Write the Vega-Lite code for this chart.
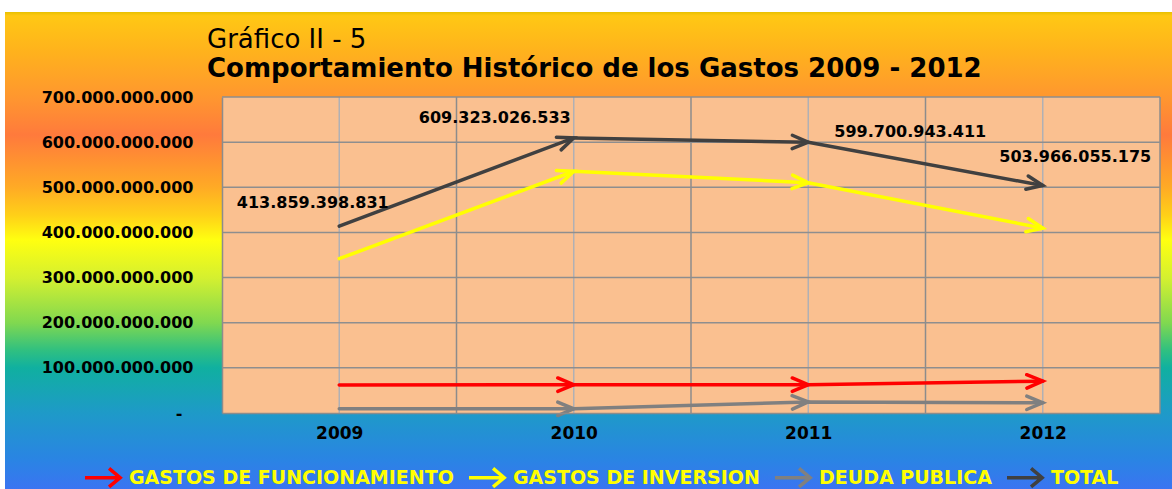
{
  "$schema": "https://vega.github.io/schema/vega-lite/v6.json",
  "width": 1167,
  "height": 477,
  "autosize": {"type": "none"},
  "padding": {"left": 5, "top": 12, "right": 0, "bottom": 0},
  "background": "#ffffff",
  "config": {
    "view": {
      "stroke": null,
      "fill": {
        "gradient": "linear", "x1": 0, "y1": 0, "x2": 0, "y2": 1,
        "stops": [
          {"offset": 0, "color": "#E8C000"},
          {"offset": 0.008, "color": "#FFC814"},
          {"offset": 0.08, "color": "#FFB31C"},
          {"offset": 0.184, "color": "#FF9530"},
          {"offset": 0.258, "color": "#FF7A3C"},
          {"offset": 0.367, "color": "#FFAA25"},
          {"offset": 0.426, "color": "#FFD018"},
          {"offset": 0.478, "color": "#FFFF10"},
          {"offset": 0.558, "color": "#D4F030"},
          {"offset": 0.652, "color": "#80D850"},
          {"offset": 0.709, "color": "#30C080"},
          {"offset": 0.746, "color": "#10B0A0"},
          {"offset": 0.84, "color": "#1E9AC8"},
          {"offset": 0.94, "color": "#2A84E4"},
          {"offset": 1, "color": "#3A74F2"}
        ]
      }
    }
  },
  "title": {
    "text": "Gráfico II - 5",
    "subtitle": "Comportamiento Histórico de los Gastos 2009 - 2012",
    "anchor": "start",
    "frame": "group",
    "dx": 202,
    "offset": -70,
    "font": "DejaVu Sans",
    "fontSize": 26,
    "fontWeight": "normal",
    "color": "#000000",
    "subtitleFont": "DejaVu Sans",
    "subtitleFontSize": 26,
    "subtitleFontWeight": "bold",
    "subtitleColor": "#000000",
    "subtitlePadding": 3
  },
  "datasets": {
    "gastos": [
      {"year": 2009, "serie": "GASTOS DE FUNCIONAMIENTO", "value": 62300000000},
      {"year": 2010, "serie": "GASTOS DE FUNCIONAMIENTO", "value": 62700000000},
      {"year": 2011, "serie": "GASTOS DE FUNCIONAMIENTO", "value": 62700000000},
      {"year": 2012, "serie": "GASTOS DE FUNCIONAMIENTO", "value": 70500000000},
      {"year": 2009, "serie": "GASTOS DE INVERSION", "value": 341800000000},
      {"year": 2010, "serie": "GASTOS DE INVERSION", "value": 535500000000},
      {"year": 2011, "serie": "GASTOS DE INVERSION", "value": 510200000000},
      {"year": 2012, "serie": "GASTOS DE INVERSION", "value": 409500000000},
      {"year": 2009, "serie": "DEUDA PUBLICA", "value": 9500000000},
      {"year": 2010, "serie": "DEUDA PUBLICA", "value": 9200000000},
      {"year": 2011, "serie": "DEUDA PUBLICA", "value": 24500000000},
      {"year": 2012, "serie": "DEUDA PUBLICA", "value": 22500000000},
      {"year": 2009, "serie": "TOTAL", "value": 413859398831},
      {"year": 2010, "serie": "TOTAL", "value": 609323026533},
      {"year": 2011, "serie": "TOTAL", "value": 599700943411},
      {"year": 2012, "serie": "TOTAL", "value": 503966055175}
    ],
    "ygrid": [
      {"v": 100000000000}, {"v": 200000000000}, {"v": 300000000000}, {"v": 400000000000},
      {"v": 500000000000}, {"v": 600000000000}, {"v": 700000000000}
    ],
    "xgrid": [
      {"x": 2009}, {"x": 2009.5}, {"x": 2010}, {"x": 2010.5}, {"x": 2011},
      {"x": 2011.5}, {"x": 2012}, {"x": 2012.5}
    ]
  },
  "data": {"name": "gastos"},
  "layer": [
    {
      "data": {"values": [{}]},
      "mark": {"type": "rect", "fill": "#FAC090"},
      "encoding": {
        "x": {"datum": 2008.5, "type": "quantitative"},
        "x2": {"datum": 2012.5},
        "y": {"datum": 0, "type": "quantitative"},
        "y2": {"datum": 700000000000}
      }
    },
    {
      "data": {"name": "xgrid"},
      "mark": {"type": "rule", "strokeWidth": 1.5},
      "encoding": {
        "x": {"field": "x", "type": "quantitative"},
        "y": {"datum": 0, "type": "quantitative"},
        "y2": {"datum": 700000000000},
        "stroke": {"condition": {"test": "datum.x % 1 == 0", "value": "#B0B0B4"}, "value": "#8C8C8C"}
      }
    },
    {
      "data": {"name": "ygrid"},
      "mark": {"type": "rule", "strokeWidth": 1.5, "stroke": "#8E8E8E"},
      "encoding": {
        "y": {"field": "v", "type": "quantitative"},
        "x": {"datum": 2008.5, "type": "quantitative"},
        "x2": {"datum": 2012.5}
      }
    },
    {
      "mark": {"type": "line", "strokeWidth": 3.5, "strokeCap": "round"},
      "encoding": {
        "x": {
          "field": "year", "type": "quantitative",
          "scale": {"domain": [2008.5, 2012.5], "range": [217, 1155], "nice": false, "zero": false},
          "axis": {
            "orient": "bottom", "offset": -76, "title": null, "values": [2009, 2010, 2011, 2012],
            "format": "d", "ticks": false, "grid": false, "labelPadding": 12,
            "labelFont": "DejaVu Sans", "labelFontWeight": "bold", "labelFontSize": 17, "labelColor": "#000000",
            "domainColor": "#8C8C8C", "domainWidth": 1.5, "zindex": 1
          }
        },
        "y": {
          "field": "value", "type": "quantitative",
          "scale": {"domain": [0, 700000000000], "range": [401, 85], "nice": false, "zero": false},
          "axis": {
            "orient": "left", "offset": -217, "title": null,
            "values": [0, 100000000000, 200000000000, 300000000000, 400000000000, 500000000000, 600000000000, 700000000000],
            "labelExpr": "datum.value == 0 ? '-\u00a0\u00a0\u200b' : replace(format(datum.value, ',d'), regexp(',', 'g'), '.')",
            "ticks": false, "grid": false, "labelPadding": 29,
            "labelFont": "DejaVu Sans", "labelFontWeight": "bold", "labelFontSize": 16, "labelColor": "#000000",
            "domainColor": "#8C8C8C", "domainWidth": 1.5, "zindex": 1
          }
        },
        "color": {
          "field": "serie", "type": "nominal",
          "scale": {
            "domain": ["GASTOS DE FUNCIONAMIENTO", "GASTOS DE INVERSION", "DEUDA PUBLICA", "TOTAL"],
            "range": ["#FF0000", "#FFFF00", "#808080", "#404040"]
          },
          "legend": {
            "orient": "none", "legendX": 78, "legendY": 445, "direction": "horizontal", "title": null,
            "symbolType": "M-1,0L0.85,0M0.3,-0.5L0.9,0L0.3,0.5", "symbolSize": 1369, "symbolStrokeWidth": 3.5,
            "symbolFillColor": "transparent",
            "labelFont": "DejaVu Sans", "labelFontWeight": "bold", "labelFontSize": 19, "labelColor": "#FFFF00",
            "labelOffset": 5, "columnPadding": 8, "labelLimit": 500, "padding": 0
          }
        }
      }
    },
    {
      "transform": [
        {"window": [{"op": "lag", "field": "value", "as": "prev"}], "groupby": ["serie"], "sort": [{"field": "year", "order": "ascending"}]},
        {"filter": "datum.prev != null"},
        {"calculate": "atan2((datum.prev - datum.value) * 316 / 700000000000, 234.5) * 180 / PI", "as": "ang"}
      ],
      "mark": {"type": "point", "shape": "M-1,-0.42L0,0L-1,0.42", "filled": false, "size": 1024, "strokeWidth": 3.5, "opacity": 1, "strokeCap": "round"},
      "encoding": {
        "x": {"field": "year", "type": "quantitative"},
        "y": {"field": "value", "type": "quantitative"},
        "color": {"field": "serie", "type": "nominal", "legend": null},
        "angle": {"field": "ang", "type": "quantitative", "scale": null}
      }
    },
    {
      "transform": [
        {"filter": "datum.serie == 'TOTAL' && datum.year == 2009"},
        {"calculate": "replace(format(datum.value, ',d'), regexp(',', 'g'), '.')", "as": "label"}
      ],
      "mark": {"type": "text", "font": "DejaVu Sans", "fontWeight": "bold", "fontSize": 16, "color": "#000000", "align": "center", "baseline": "middle", "dx": -26.5, "dy": -23.5},
      "encoding": {
        "x": {"field": "year", "type": "quantitative"},
        "y": {"field": "value", "type": "quantitative"},
        "text": {"field": "label"}
      }
    },
    {
      "transform": [
        {"filter": "datum.serie == 'TOTAL' && datum.year == 2010"},
        {"calculate": "replace(format(datum.value, ',d'), regexp(',', 'g'), '.')", "as": "label"}
      ],
      "mark": {"type": "text", "font": "DejaVu Sans", "fontWeight": "bold", "fontSize": 16, "color": "#000000", "align": "center", "baseline": "middle", "dx": -79, "dy": -20},
      "encoding": {
        "x": {"field": "year", "type": "quantitative"},
        "y": {"field": "value", "type": "quantitative"},
        "text": {"field": "label"}
      }
    },
    {
      "transform": [
        {"filter": "datum.serie == 'TOTAL' && datum.year == 2011"},
        {"calculate": "replace(format(datum.value, ',d'), regexp(',', 'g'), '.')", "as": "label"}
      ],
      "mark": {"type": "text", "font": "DejaVu Sans", "fontWeight": "bold", "fontSize": 16, "color": "#000000", "align": "center", "baseline": "middle", "dx": 102, "dy": -10},
      "encoding": {
        "x": {"field": "year", "type": "quantitative"},
        "y": {"field": "value", "type": "quantitative"},
        "text": {"field": "label"}
      }
    },
    {
      "transform": [
        {"filter": "datum.serie == 'TOTAL' && datum.year == 2012"},
        {"calculate": "replace(format(datum.value, ',d'), regexp(',', 'g'), '.')", "as": "label"}
      ],
      "mark": {"type": "text", "font": "DejaVu Sans", "fontWeight": "bold", "fontSize": 16, "color": "#000000", "align": "center", "baseline": "middle", "dx": 32.5, "dy": -28.5},
      "encoding": {
        "x": {"field": "year", "type": "quantitative"},
        "y": {"field": "value", "type": "quantitative"},
        "text": {"field": "label"}
      }
    }
  ]
}
